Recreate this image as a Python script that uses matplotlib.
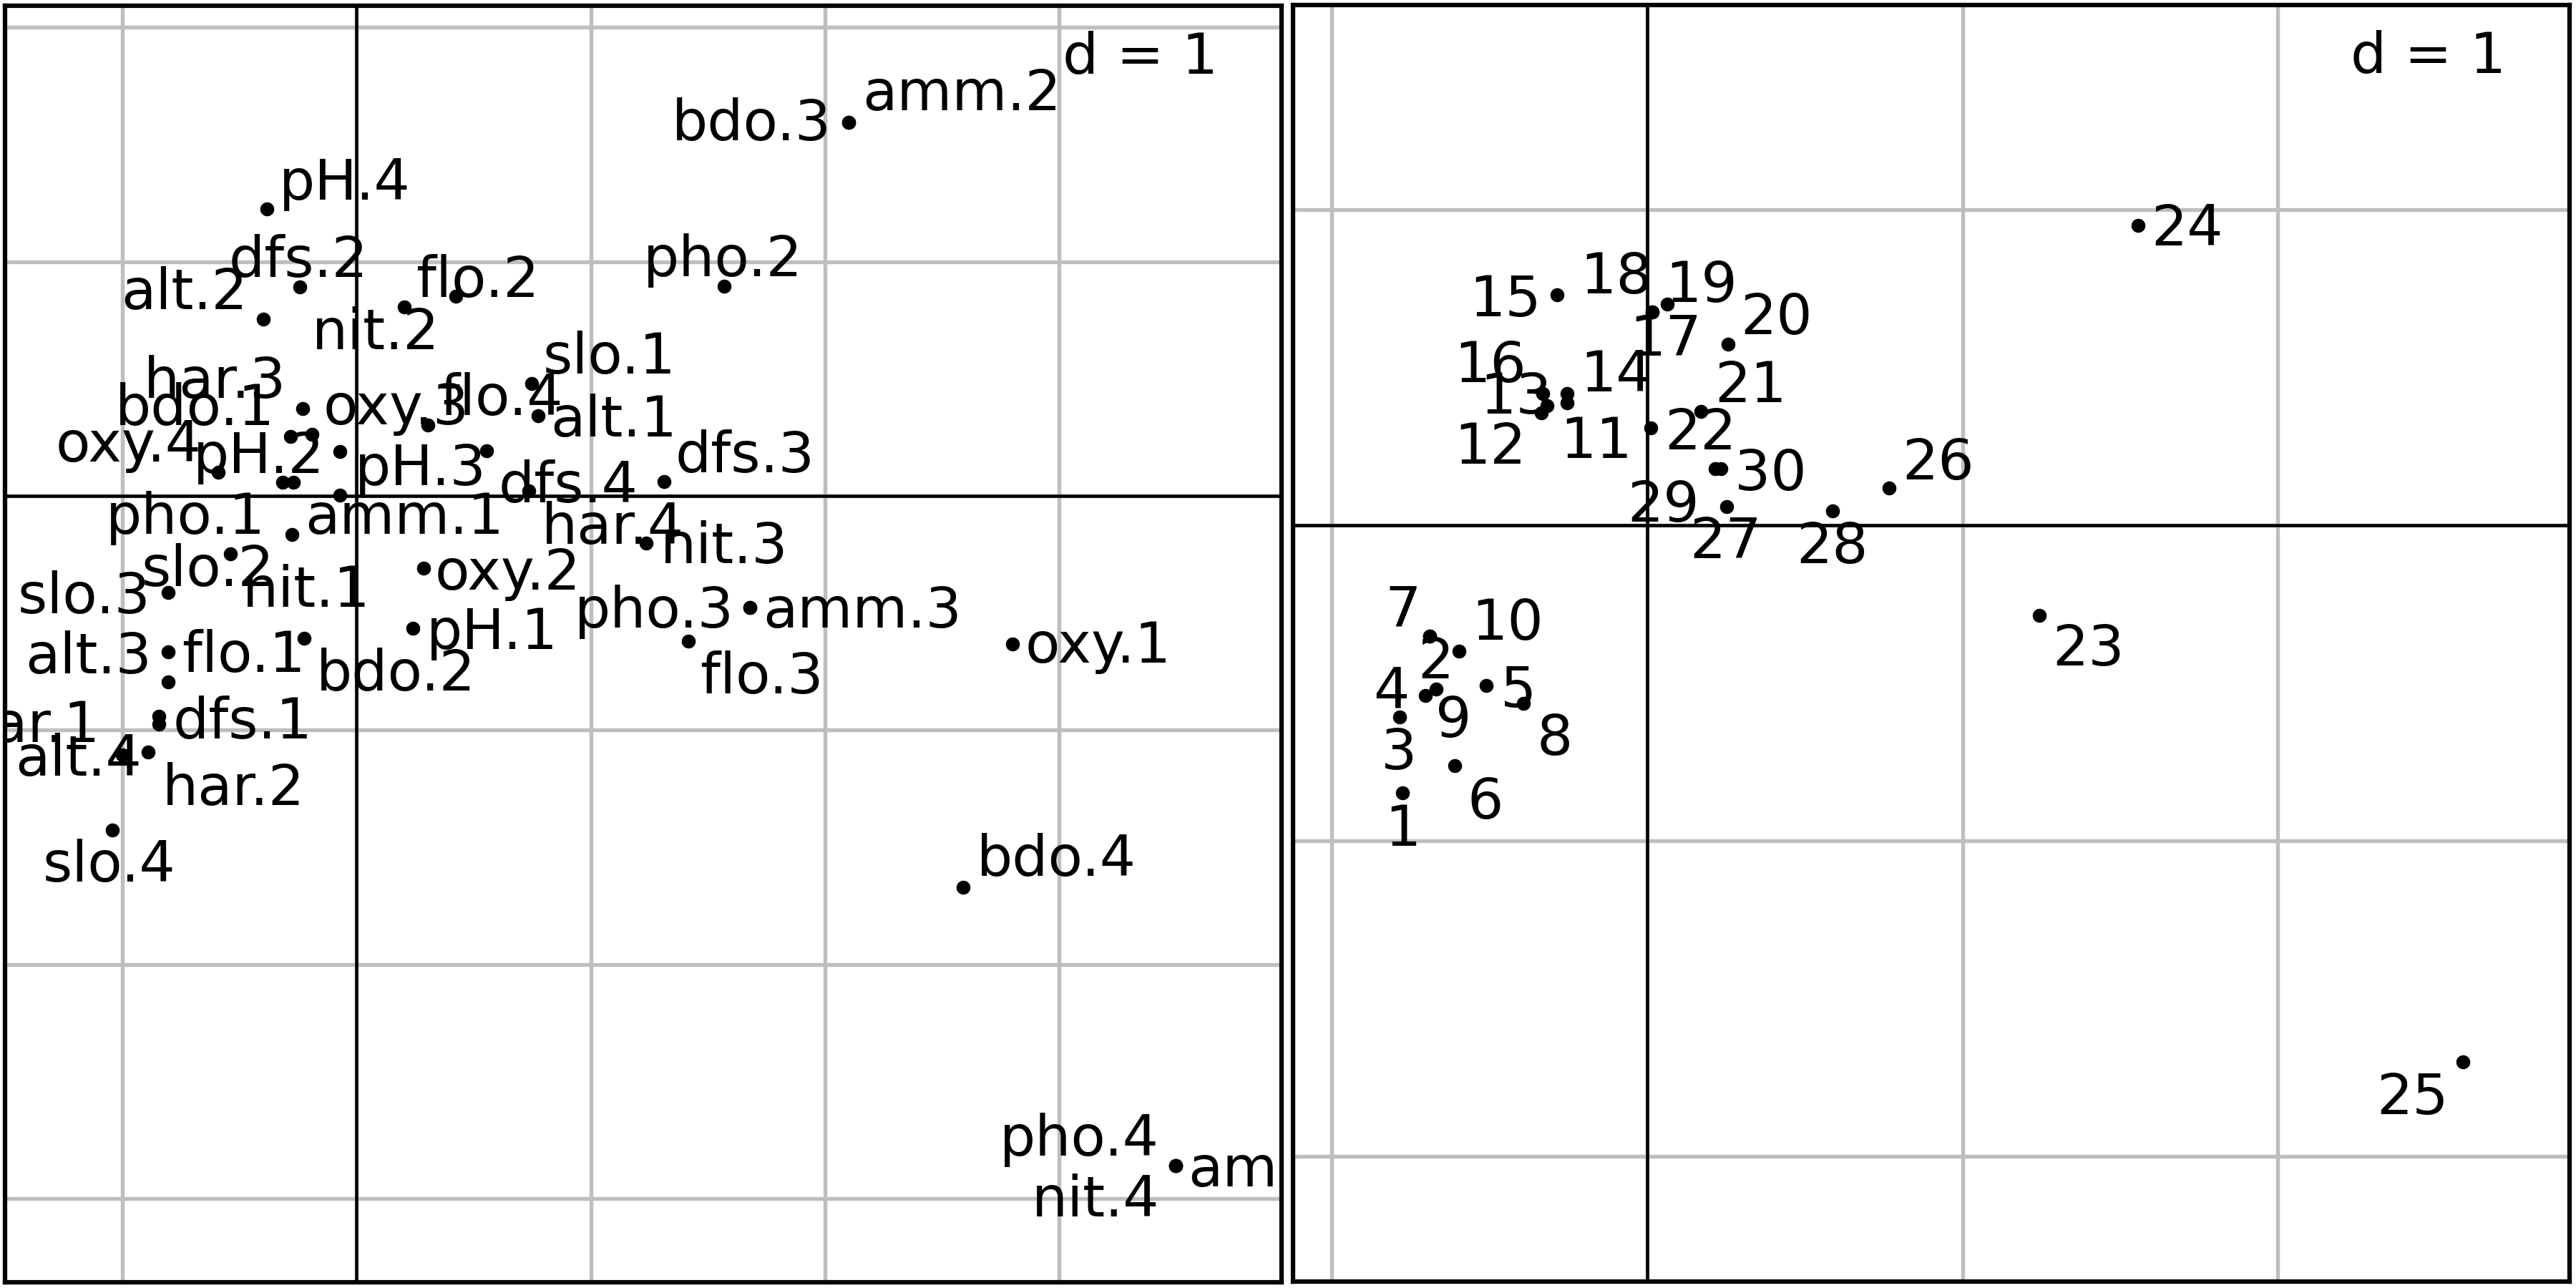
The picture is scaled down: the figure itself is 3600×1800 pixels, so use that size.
import matplotlib
matplotlib.use("Agg")
import matplotlib.pyplot as plt

# Modalites (co) - premier plan factoriel
col_labels = ['alt.1', 'alt.2', 'alt.3', 'alt.4', 'slo.1', 'slo.2', 'slo.3', 'slo.4',
              'flo.1', 'flo.2', 'flo.3', 'flo.4', 'pH.1', 'pH.2', 'pH.3', 'pH.4',
              'har.1', 'har.2', 'har.3', 'har.4', 'pho.1', 'pho.2', 'pho.3', 'pho.4',
              'nit.1', 'nit.2', 'nit.3', 'nit.4', 'amm.1', 'amm.2', 'amm.3', 'amm.4',
              'oxy.1', 'oxy.2', 'oxy.3', 'oxy.4', 'bdo.1', 'bdo.2', 'bdo.3', 'bdo.4',
              'dfs.1', 'dfs.2', 'dfs.3', 'dfs.4']
col_x = [0.775, -0.398, -0.804, -1.000, 0.748, -0.540, -0.804, -1.043,
         -0.804, 0.424, 1.417, 0.305, 0.240, -0.315, 0.555, -0.383,
         -0.845, -0.890, -0.231, -0.071, -0.277, 1.570, 1.680, 3.498,
         -0.269, 0.204, 1.237, 3.498, -0.071, 2.101, 1.680, 3.498,
         2.801, 0.287, -0.190, -0.590, -0.282, -0.224, 2.101, 2.590,
         -0.844, -0.242, 1.313, 0.735]
col_y = [0.342, 0.755, -0.666, -1.106, 0.480, -0.249, -0.412, -1.427,
         -0.794, 0.852, -0.620, 0.302, -0.565, 0.058, 0.192, 1.225,
         -0.975, -1.094, 0.373, 0.189, -0.165, 0.895, -0.477, -2.860,
         0.058, 0.807, -0.202, -2.860, 0.003, 1.595, -0.477, -2.860,
         -0.632, -0.309, 0.263, 0.101, 0.254, -0.608, 1.595, -1.671,
         -0.941, 0.892, 0.061, 0.021]

# Stations (li)
row_labels = [str(i) for i in range(1, 31)]
row_x = [-0.776, -0.689, -0.784, -0.704, -0.510, -0.611, -0.689, -0.392, -0.670, -0.597,
         -0.254, -0.335, -0.318, -0.254, -0.286, -0.330, 0.017, 0.017, 0.064, 0.256,
         0.170, 0.011, 1.243, 1.556, 2.587, 0.766, 0.251, 0.589, 0.215, 0.234]
row_y = [-0.849, -0.352, -0.607, -0.539, -0.509, -0.761, -0.352, -0.564, -0.519, -0.398,
         0.389, 0.356, 0.380, 0.418, 0.730, 0.419, 0.676, 0.676, 0.701, 0.574,
         0.361, 0.308, -0.286, 0.952, -1.701, 0.119, 0.060, 0.045, 0.179, 0.179]

# position des etiquettes (decalage en points)
col_offsets = [(4.1, -7.0), (-47.8, 3.4), (-48.0, -7.2), (-36.0, -7.0),
               (3.8, 3.4), (-29.6, -10.7), (-50.4, -7.0), (-23.3, -17.3),
               (4.6, 3.4), (-13.4, -0.2), (3.8, -17.5), (3.8, 3.4),
               (4.6, -7.0), (-30.0, 3.1), (-44.2, -11.5), (4.1, 3.1),
               (-67.3, -6.0), (4.8, -17.8), (-53.2, 3.6), (67.7, -31.0),
               (-62.3, 0.2), (-27.1, 3.4), (-58.8, -6.7), (-59.0, 3.4),
               (-17.0, -41.8), (-31.0, -14.2), (4.8, -6.7), (-48.2, -17.0),
               (-11.8, -13.0), (4.6, 4.1), (4.3, -6.7), (4.1, -7.0),
               (4.3, -6.2), (3.8, -7.2), (3.8, 3.4), (-54.7, 3.6),
               (-58.8, 3.8), (4.1, -17.5), (-59.3, -6.0), (4.6, 3.8),
               (4.6, -7.4), (-23.8, 3.4), (3.8, 3.1), (-10.1, -3.8)]
row_offsets = [(-6.0, -17.6), (-4.2, -14.2), (-6.4, -17.6), (-17.4, -4.2), (4.7, -7.0),
               (4.4, -17.8), (-15.0, 3.0), (4.5, -17.4), (-0.2, -16.2), (4.3, 3.7),
               (-2.4, -18.6), (-29.3, -17.0), (-22.5, -2.8), (4.3, 0.8), (-29.5, -7.1),
               (-29.7, 3.8), (-7.8, -14.6), (-24.3, 6.2), (-0.7, 0.8), (4.3, 3.4),
               (4.6, 3.2), (4.6, -7.2), (4.4, -16.7), (4.4, -6.9), (-29.0, -17.6),
               (4.4, 2.9), (-12.4, -17.4), (-12.4, -17.4), (-29.4, -17.6), (4.6, -7.2)]


def panel(ax, xs, ys, labels, offsets, xlim, ylim):
    ax.set_xticks(range(-3, 5))
    ax.set_yticks(range(-4, 4))
    ax.set_xlim(*xlim)
    ax.set_ylim(*ylim)
    ax.grid(True, color='#bebebe', linewidth=1.3, zorder=0)
    ax.set_axisbelow(True)
    ax.tick_params(length=0, labelbottom=False, labelleft=False)
    ax.axhline(0, color='black', linewidth=1.1, zorder=1)
    ax.axvline(0, color='black', linewidth=1.1, zorder=1)
    for sp in ax.spines.values():
        sp.set_linewidth(1.5)
        sp.set_color('black')
    ax.scatter(xs, ys, s=22, color='black', linewidths=0, zorder=3)
    for x, y, lab, off in zip(xs, ys, labels, offsets):
        ax.annotate(lab, (x, y), xytext=off, textcoords='offset points',
                    ha='left', va='baseline', fontsize=19, clip_on=True, zorder=4)
    ax.text(0.95, 0.947, 'd = 1', transform=ax.transAxes, ha='right',
            va='baseline', fontsize=19, zorder=5)


fig = plt.figure(figsize=(12, 6), dpi=300)
ax1 = fig.add_axes([7 / 3600, 8 / 1800, 1784 / 3600, 1784 / 1800])
ax2 = fig.add_axes([1807 / 3600, 9 / 1800, 1784 / 3600, 1784 / 1800])

panel(ax1, col_x, col_y, col_labels, col_offsets, (-1.501, 3.950), (-3.358, 2.093))
panel(ax2, row_x, row_y, row_labels, row_offsets, (-1.123, 2.925), (-2.398, 1.650))

fig.savefig('out.png', dpi=300)
